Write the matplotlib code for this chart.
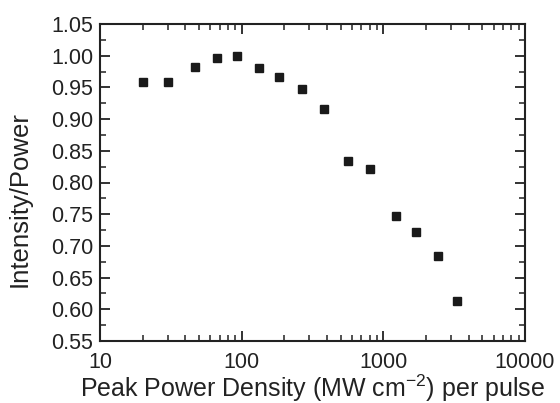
import matplotlib
matplotlib.use("Agg")
import matplotlib.pyplot as plt
from matplotlib.ticker import LogLocator, FixedLocator, MultipleLocator, FuncFormatter

plt.rcParams['font.family'] = ['Liberation Sans', 'DejaVu Sans']
plt.rcParams['mathtext.fontset'] = 'custom'
plt.rcParams['mathtext.rm'] = 'Liberation Sans'
plt.rcParams['mathtext.it'] = 'Liberation Sans'

power_density = [20, 30, 47, 67, 93, 133, 184, 267, 380, 563, 805, 1228, 1698, 2432, 3310]
intensity_ratio = [0.958, 0.958, 0.982, 0.996, 1.000, 0.980, 0.966, 0.947, 0.916,
                   0.834, 0.821, 0.747, 0.722, 0.684, 0.613]
x_ticks = [10, 100, 1000, 10000]
y_ticks = [0.55, 0.60, 0.65, 0.70, 0.75, 0.80, 0.85, 0.90, 0.95, 1.00, 1.05]

fig = plt.figure(figsize=(5.6, 4.03), dpi=100)
ax = fig.add_axes([100/560, 1-341/403, 425/560, 317/403])

ax.plot(power_density, intensity_ratio, linestyle='none', marker='s',
        markersize=6.3, color='#1a1a1a')

ax.set_xscale('log')
ax.set_xlim(10, 10000)
ax.set_ylim(0.55, 1.05)
ax.xaxis.set_major_locator(FixedLocator(x_ticks))
ax.xaxis.set_major_formatter(FuncFormatter(lambda v, p: f"{int(round(v))}"))
ax.xaxis.set_minor_locator(LogLocator(base=10, subs=range(2, 10)))
ax.xaxis.set_minor_formatter(FuncFormatter(lambda v, p: ""))
ax.yaxis.set_major_locator(FixedLocator(y_ticks))
ax.yaxis.set_major_formatter(FuncFormatter(lambda v, p: f"{v:.2f}"))
ax.yaxis.set_minor_locator(MultipleLocator(0.025))

for s in ax.spines.values():
    s.set_linewidth(1.5)
    s.set_color('#222222')
ax.tick_params(which='both', direction='in', top=True, right=True, color='#222222',
               labelsize=15.5, labelcolor='#222222')
ax.tick_params(which='major', length=7, width=1.3, pad=5)
ax.tick_params(which='minor', length=4, width=1.1)
ax.tick_params(axis='x', which='major', pad=8)

ax.set_xlabel('Peak Power Density (MW cm$^{\\mathregular{-2}}$) per pulse', fontsize=18,
              color='#222222')
ax.xaxis.set_label_coords(0.5, -0.099)
ax.set_ylabel('Intensity/Power', fontsize=18.5, color='#222222')
ax.yaxis.set_label_coords(-0.162, 0.448)

fig.savefig('out.png', dpi=100)
